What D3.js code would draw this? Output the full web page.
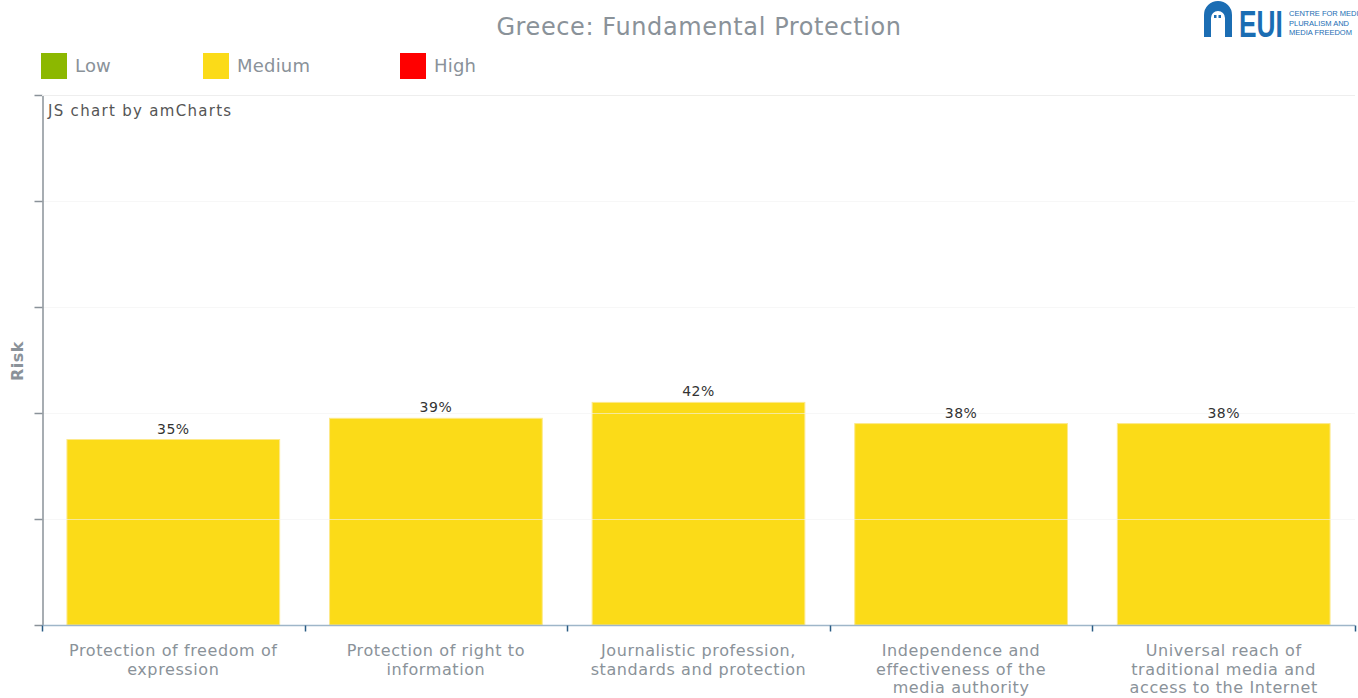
<!DOCTYPE html>
<html>
<head>
<meta charset="utf-8">
<script src="https://cdn.jsdelivr.net/npm/d3@7/dist/d3.min.js"></script>
<style>
  html, body { margin: 0; padding: 0; background: #fff; }
  svg { display: block; font-family: "DejaVu Sans", Verdana, sans-serif; }
</style>
</head>
<body>
<svg id="chart" width="1358" height="698"></svg>
<script>
// Risk scores for the Fundamental Protection area
const categories = [
  "Protection of freedom of expression",
  "Protection of right to information",
  "Journalistic profession, standards and protection",
  "Independence and effectiveness of the media authority",
  "Universal reach of traditional media and access to the Internet"
];
// Wrapped versions of the category names, as shown under the axis
const categoryLines = [
  ["Protection of freedom of", "expression"],
  ["Protection of right to", "information"],
  ["Journalistic profession,", "standards and protection"],
  ["Independence and", "effectiveness of the", "media authority"],
  ["Universal reach of", "traditional media and", "access to the Internet"]
];
const riskValues = [35, 39, 42, 38, 38];
const riskLevels = ["Medium", "Medium", "Medium", "Medium", "Medium"];

const legendLabels = ["Low", "Medium", "High"];
const legendColors = ["#8cb800", "#fbdb18", "#ff0000"];
const yTicks = [0, 20, 40, 60, 80, 100];

const svg = d3.select("#chart");
const margin = { left: 42, right: 3, top: 95, bottom: 73 };
const W = 1358, H = 698;

const x = d3.scaleBand()
  .domain(categories)
  .range([margin.left, W - margin.right])
  .paddingInner(0.19)
  .paddingOuter(0.095);
const y = d3.scaleLinear().domain([0, 100]).range([H - margin.bottom, margin.top]);
const color = d3.scaleOrdinal().domain(legendLabels).range(legendColors);

// Title
svg.append("text")
  .attr("x", 699).attr("y", 35)
  .attr("text-anchor", "middle")
  .attr("fill", "#8a9299")
  .attr("font-size", 24)
  .attr("letter-spacing", 0.6)
  .text("Greece: Fundamental Protection");

// Legend
const legendX = [41, 203, 400];
const legend = svg.append("g");
legendLabels.forEach((name, i) => {
  legend.append("rect")
    .attr("x", legendX[i]).attr("y", 53)
    .attr("width", 26).attr("height", 26)
    .attr("fill", color(name));
  legend.append("text")
    .attr("x", legendX[i] + 34).attr("y", 72)
    .attr("fill", "#8a9299")
    .attr("font-size", 18)
    .attr("letter-spacing", 0.2)
    .text(name);
});

// Bars
svg.append("g").selectAll("rect")
  .data(categories)
  .join("rect")
  .attr("x", d => x(d))
  .attr("width", x.bandwidth())
  .attr("y", (d, i) => y(riskValues[i]))
  .attr("height", (d, i) => y(0) - y(riskValues[i]))
  .attr("fill", (d, i) => color(riskLevels[i]))
  .attr("stroke", "#fde98a")
  .attr("stroke-width", 1);

// Horizontal grid drawn over the bars
svg.append("g").selectAll("line")
  .data(yTicks.filter(t => t > 0))
  .join("line")
  .attr("x1", margin.left).attr("x2", W - margin.right)
  .attr("y1", d => Math.round(y(d)) + 0.5).attr("y2", d => Math.round(y(d)) + 0.5)
  .attr("stroke", "#f2f2f2")
  .attr("stroke-opacity", 0.6);

// Value labels
svg.append("g").selectAll("text")
  .data(categories)
  .join("text")
  .attr("x", d => x(d) + x.bandwidth() / 2)
  .attr("y", (d, i) => y(riskValues[i]) - 6)
  .attr("text-anchor", "middle")
  .attr("fill", "#333")
  .attr("font-size", 14)
  .attr("letter-spacing", 0.5)
  .text((d, i) => riskValues[i] + "%");

// Y axis (no labels, only ticks)
const yAxis = svg.append("g")
  .attr("transform", `translate(${margin.left + 0.5},0)`)
  .call(d3.axisLeft(y).tickValues(yTicks).tickFormat("").tickSize(8).tickSizeOuter(0));
yAxis.selectAll("path, line").attr("stroke", "#8a9299").attr("stroke-width", 1.5);

// X axis with category separator ticks
const xAxisY = Math.round(y(0)) + 0.5;
const bounds = d3.range(categories.length + 1).map(i =>
  margin.left + i * (W - margin.right - margin.left) / categories.length);
svg.append("line")
  .attr("x1", margin.left).attr("x2", W - margin.right)
  .attr("y1", xAxisY).attr("y2", xAxisY)
  .attr("stroke", "#9fb6c9").attr("stroke-width", 1.5);
svg.append("g").selectAll("line")
  .data(bounds)
  .join("line")
  .attr("x1", d => Math.round(d) + 0.5).attr("x2", d => Math.round(d) + 0.5)
  .attr("y1", xAxisY).attr("y2", xAxisY + 6)
  .attr("stroke", "#2b5d85").attr("stroke-width", 1.5);

// Category labels
const catG = svg.append("g");
categories.forEach((c, i) => {
  const cx = x(c) + x.bandwidth() / 2;
  const t = catG.append("text")
    .attr("x", cx)
    .attr("y", 656)
    .attr("text-anchor", "middle")
    .attr("fill", "#8a9299")
    .attr("font-size", 16)
    .attr("letter-spacing", 0.6);
  categoryLines[i].forEach((line, j) => {
    t.append("tspan")
      .attr("x", cx)
      .attr("dy", j === 0 ? 0 : 18.5)
      .text(line);
  });
});

// Y axis title
svg.append("text")
  .attr("transform", "translate(23,361) rotate(-90)")
  .attr("text-anchor", "middle")
  .attr("fill", "#8a9299")
  .attr("font-size", 16)
  .attr("font-weight", "bold")
  .attr("letter-spacing", 0.5)
  .text("Risk");

// Credit
svg.append("text")
  .attr("x", 48).attr("y", 116)
  .attr("fill", "#555")
  .attr("font-size", 15)
  .attr("letter-spacing", 1.3)
  .text("JS chart by amCharts");

// Top grid line at 100
svg.append("line")
  .attr("x1", margin.left).attr("x2", W - margin.right)
  .attr("y1", Math.round(y(100)) + 0.5).attr("y2", Math.round(y(100)) + 0.5)
  .attr("stroke", "#eeeeee");

// EUI logo
const logo = svg.append("g").attr("transform", "translate(1204,1)");
const blue = "#1b6db3";
logo.append("path")
  .attr("d", "M0,36 L0,14 A14,14 0 0 1 28,14 L28,36 L21,36 L21,17 A7,7 0 0 0 7,17 L7,36 Z")
  .attr("fill", blue);
logo.append("rect").attr("x", 10).attr("y", 14).attr("width", 2.5).attr("height", 3).attr("fill", blue);
logo.append("rect").attr("x", 14.5).attr("y", 14).attr("width", 2.5).attr("height", 3).attr("fill", blue);
logo.append("text")
  .attr("transform", "translate(35,36) scale(0.73,1)")
  .attr("fill", blue)
  .attr("font-family", "'Liberation Sans', Arial, sans-serif")
  .attr("font-weight", "bold")
  .attr("font-size", 36)
  .text("EUI");
["CENTRE FOR MEDIA", "PLURALISM AND", "MEDIA FREEDOM"].forEach((s, i) => {
  logo.append("text")
    .attr("x", 85).attr("y", 15 + i * 9.5)
    .attr("fill", blue)
    .attr("font-family", "'Liberation Sans Narrow', 'Liberation Sans', Arial, sans-serif")
    .attr("font-size", 7.5)
    .text(s);
});
</script>
</body>
</html>
